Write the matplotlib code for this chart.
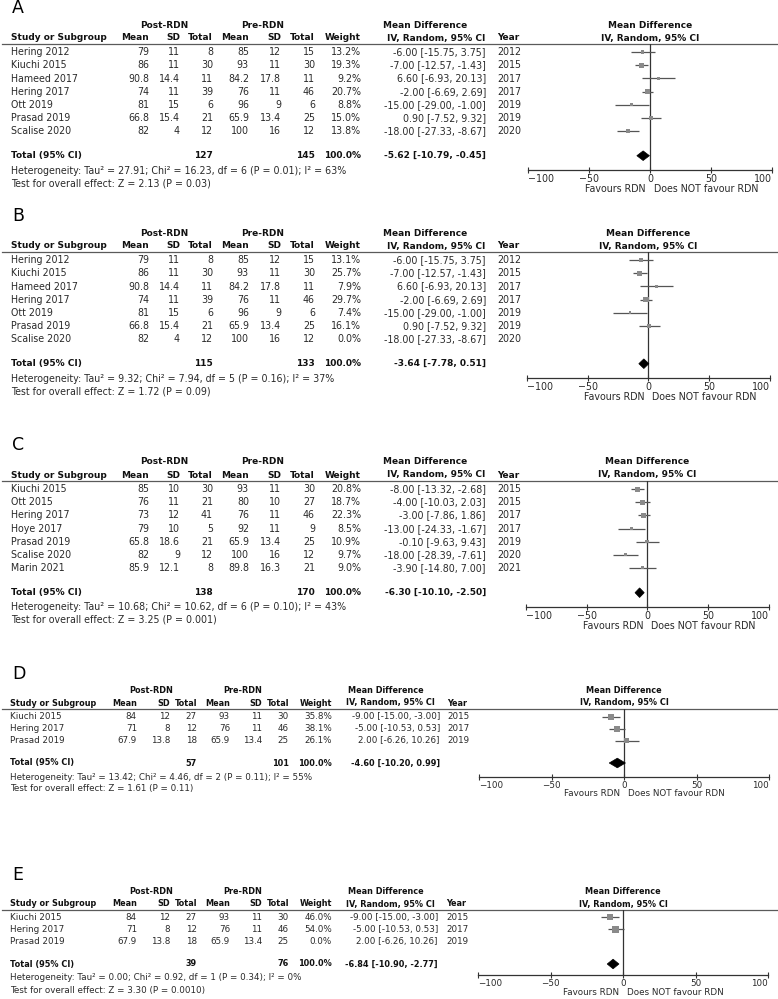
import matplotlib
matplotlib.use('Agg')
import matplotlib.pyplot as plt
from matplotlib.patches import Polygon
import numpy as np

plt.rcParams.update({
    'font.family': ['DejaVu Sans'],
    'axes.unicode_minus': False,
})

# ---- data ----
studies_ab = ['Hering 2012', 'Kiuchi 2015', 'Hameed 2017', 'Hering 2017', 'Ott 2019', 'Prasad 2019', 'Scalise 2020']
post_mean_ab = [79, 86, 90.8, 74, 81, 66.8, 82]
post_sd_ab = [11, 11, 14.4, 11, 15, 15.4, 4]
post_n_ab = [8, 30, 11, 39, 6, 21, 12]
pre_mean_ab = [85, 93, 84.2, 76, 96, 65.9, 100]
pre_sd_ab = [12, 11, 17.8, 11, 9, 13.4, 16]
pre_n_ab = [15, 30, 11, 46, 6, 25, 12]
md_ab = [-6.00, -7.00, 6.60, -2.00, -15.00, 0.90, -18.00]
lo_ab = [-15.75, -12.57, -6.93, -6.69, -29.00, -7.52, -27.33]
hi_ab = [3.75, -1.43, 20.13, 2.69, -1.00, 9.32, -8.67]
year_ab = [2012, 2015, 2017, 2017, 2019, 2019, 2020]
weight_a = [13.2, 19.3, 9.2, 20.7, 8.8, 15.0, 13.8]
weight_b = [13.1, 25.7, 7.9, 29.7, 7.4, 16.1, 0.0]

studies_c = ['Kiuchi 2015', 'Ott 2015', 'Hering 2017', 'Hoye 2017', 'Prasad 2019', 'Scalise 2020', 'Marin 2021']
post_mean_c = [85, 76, 73, 79, 65.8, 82, 85.9]
post_sd_c = [10, 11, 12, 10, 18.6, 9, 12.1]
post_n_c = [30, 21, 41, 5, 21, 12, 8]
pre_mean_c = [93, 80, 76, 92, 65.9, 100, 89.8]
pre_sd_c = [11, 10, 11, 11, 13.4, 16, 16.3]
pre_n_c = [30, 27, 46, 9, 25, 12, 21]
md_c = [-8.00, -4.00, -3.00, -13.00, -0.10, -18.00, -3.90]
lo_c = [-13.32, -10.03, -7.86, -24.33, -9.63, -28.39, -14.80]
hi_c = [-2.68, 2.03, 1.86, -1.67, 9.43, -7.61, 7.00]
year_c = [2015, 2015, 2017, 2017, 2019, 2020, 2021]
weight_c = [20.8, 18.7, 22.3, 8.5, 10.9, 9.7, 9.0]

studies_de = ['Kiuchi 2015', 'Hering 2017', 'Prasad 2019']
post_mean_de = [84, 71, 67.9]
post_sd_de = [12, 8, 13.8]
post_n_de = [27, 12, 18]
pre_mean_de = [93, 76, 65.9]
pre_sd_de = [11, 11, 13.4]
pre_n_de = [30, 46, 25]
md_de = [-9.00, -5.00, 2.00]
lo_de = [-15.00, -10.53, -6.26]
hi_de = [-3.00, 0.53, 10.26]
year_de = [2015, 2017, 2019]
weight_d = [35.8, 38.1, 26.1]
weight_e = [46.0, 54.0, 0.0]

# pooled results: post total, pre total, md, lo, hi
total_a = [127, 145, -5.62, -10.79, -0.45]
total_b = [115, 133, -3.64, -7.78, 0.51]
total_c = [138, 170, -6.30, -10.10, -2.50]
total_d = [57, 101, -4.60, -10.20, 0.99]
total_e = [39, 76, -6.84, -10.90, -2.77]

het_a = 'Heterogeneity: Tau² = 27.91; Chi² = 16.23, df = 6 (P = 0.01); I² = 63%'
het_b = 'Heterogeneity: Tau² = 9.32; Chi² = 7.94, df = 5 (P = 0.16); I² = 37%'
het_c = 'Heterogeneity: Tau² = 10.68; Chi² = 10.62, df = 6 (P = 0.10); I² = 43%'
het_d = 'Heterogeneity: Tau² = 13.42; Chi² = 4.46, df = 2 (P = 0.11); I² = 55%'
het_e = 'Heterogeneity: Tau² = 0.00; Chi² = 0.92, df = 1 (P = 0.34); I² = 0%'
test_a = 'Test for overall effect: Z = 2.13 (P = 0.03)'
test_b = 'Test for overall effect: Z = 1.72 (P = 0.09)'
test_c = 'Test for overall effect: Z = 3.25 (P = 0.001)'
test_d = 'Test for overall effect: Z = 1.61 (P = 0.11)'
test_e = 'Test for overall effect: Z = 3.30 (P = 0.0010)'

ticks = [-100, -50, 0, 50, 100]

# ---- layout (pixel positions) ----
W, H = 778, 999
TXT = '#2a2a2a'
BOLD = '#111111'
SQ = '#8a8a8a'
CI = '#555555'
AX = '#333333'


def layout(off, label, fx):
    return dict(label=label, letter=8 + off, h1=25 + off, h2=38 + off, line=43.5 + off,
                row0=52.3 + off, dy=13.1, total=155.7 + off, het=170.5 + off, test=183 + off,
                axis=170 + off, fx=fx, cols=[149, 180, 213, 249, 281, 315, 361], study_x=11,
                md_r=486, year_x=497, md_hdr=383, iv_hdr=387, post_c=164, pre_c=263,
                fs=6.85, fsb=6.45, sq=10, fav=19)


LAY_A = layout(0, 'A', (528, 772))
LAY_B = layout(208, 'B', (527, 769.5))
LAY_C = layout(437, 'C', (526, 768.5))
LAY_D = dict(label='D', letter=674, h1=690.5, h2=703, line=709, row0=716.7, dy=12, total=763,
             het=777, test=789, axis=777, fx=(479, 769), cols=[137, 170, 197, 230, 262, 289, 332],
             study_x=10, md_r=440, year_x=447, md_hdr=348, iv_hdr=346, post_c=151, pre_c=243,
             fs=6.35, fsb=5.9, sq=9.4, fav=16)
LAY_E = dict(LAY_D, label='E', letter=875, h1=891, h2=904, line=910, row0=917.3, total=964,
             het=977, test=990, axis=975.3, fx=(478, 768), md_r=438, year_x=446, fav=17.5)

fig = plt.figure(figsize=(W / 100, H / 100), dpi=100)
bg = fig.add_axes([0, 0, 1, 1])
bg.set_xlim(0, W)
bg.set_ylim(H, 0)
bg.axis('off')


def fmt(v):
    return f'{v:g}'


def ci_text(m, l, h):
    return f'{m:.2f} [{l:.2f}, {h:.2f}]'


def draw_panel(lay, study, pm, psd, pn, qm, qsd, qn, wt, md, lo, hi, yr, tot, het, test):
    fs = lay['fs']
    t = dict(fontsize=fs, color=TXT, va='center')
    b = dict(fontsize=lay['fsb'], color=BOLD, va='center', fontweight='bold')
    c = lay['cols']

    bg.text(12, lay['letter'], lay['label'], fontsize=12.5, color='black', va='center')

    # column headers
    bg.text(lay['post_c'], lay['h1'], 'Post-RDN', ha='center', **b)
    bg.text(lay['pre_c'], lay['h1'], 'Pre-RDN', ha='center', **b)
    bg.text(lay['md_hdr'], lay['h1'], 'Mean Difference', ha='left', **b)
    bg.text(lay['study_x'], lay['h2'], 'Study or Subgroup', ha='left', **b)
    for x, s in zip(c, ['Mean', 'SD', 'Total', 'Mean', 'SD', 'Total', 'Weight']):
        bg.text(x, lay['h2'], s, ha='right', **b)
    bg.text(lay['iv_hdr'], lay['h2'], 'IV, Random, 95% CI', ha='left', **b)
    bg.text(lay['year_x'], lay['h2'], 'Year', ha='left', **b)
    bg.plot([2, 777], [lay['line'], lay['line']], color='#5a5a5a', lw=0.9)

    # study rows
    for i in range(len(study)):
        y = lay['row0'] + i * lay['dy']
        bg.text(lay['study_x'], y, study[i], ha='left', **t)
        vals = [fmt(pm[i]), fmt(psd[i]), fmt(pn[i]), fmt(qm[i]), fmt(qsd[i]), fmt(qn[i]),
                f'{wt[i]:.1f}%']
        for x, s in zip(c, vals):
            bg.text(x, y, s, ha='right', **t)
        bg.text(lay['md_r'], y, ci_text(md[i], lo[i], hi[i]), ha='right', **t)
        bg.text(lay['year_x'], y, str(yr[i]), ha='left', **t)

    # total row
    bg.text(lay['study_x'], lay['total'], 'Total (95% CI)', ha='left', **b)
    bg.text(c[2], lay['total'], str(tot[0]), ha='right', **b)
    bg.text(c[5], lay['total'], str(tot[1]), ha='right', **b)
    bg.text(c[6], lay['total'], '100.0%', ha='right', **b)
    bg.text(lay['md_r'], lay['total'], ci_text(tot[2], tot[3], tot[4]), ha='right', **b)
    bg.text(lay['study_x'], lay['het'], het, ha='left', **t)
    bg.text(lay['study_x'], lay['test'], test, ha='left', **t)

    # forest plot axes
    x0, x1 = lay['fx']
    zero_px = (x0 + x1) / 2
    ax = fig.add_axes([x0 / W, 1 - lay['axis'] / H, (x1 - x0) / W, (lay['axis'] - lay['line']) / H])
    ax.set_facecolor('none')
    ax.set_xlim(-100, 100)
    ax.set_ylim(lay['axis'], lay['line'])
    for s in ['top', 'left', 'right']:
        ax.spines[s].set_visible(False)
    ax.spines['bottom'].set_color(AX)
    ax.spines['bottom'].set_linewidth(0.9)
    ax.set_yticks([])
    ax.set_xticks(ticks)
    ax.set_xticklabels([str(v).replace('-', '\u2212') for v in ticks])
    ax.tick_params(axis='x', direction='inout', length=5, width=0.8, color=AX,
                   labelsize=fs, labelcolor=TXT, pad=0.5)
    labs = ax.get_xticklabels()
    labs[0].set_ha('left')
    labs[-1].set_ha('right')
    ax.axvline(0, color=AX, lw=0.9)

    rows = lay['row0'] + np.arange(len(study)) * lay['dy']
    w = np.array(wt)
    keep = w > 0
    ax.hlines(rows[keep], np.array(lo)[keep], np.array(hi)[keep], color=CI, lw=0.9)
    side_pt = lay['sq'] * np.sqrt(w[keep] / 100) * 0.72
    ax.scatter(np.array(md)[keep], rows[keep], marker='s', s=side_pt ** 2, color=SQ,
               linewidths=0, zorder=3)

    yt = lay['total']
    hh = 4.8
    ax.add_patch(Polygon([(tot[3], yt), (tot[2], yt - hh), (tot[4], yt), (tot[2], yt + hh)],
                         closed=True, facecolor='black', edgecolor='black', lw=0.5, zorder=4))

    # forest headers and direction labels
    bg.text(zero_px, lay['h1'], 'Mean Difference', ha='center', **b)
    bg.text(zero_px, lay['h2'], 'IV, Random, 95% CI', ha='center', **b)
    bg.text(zero_px - 4, lay['axis'] + lay['fav'], 'Favours RDN', ha='right', **t)
    bg.text(zero_px + 4, lay['axis'] + lay['fav'], 'Does NOT favour RDN', ha='left', **t)


draw_panel(LAY_A, studies_ab, post_mean_ab, post_sd_ab, post_n_ab, pre_mean_ab, pre_sd_ab,
           pre_n_ab, weight_a, md_ab, lo_ab, hi_ab, year_ab, total_a, het_a, test_a)
draw_panel(LAY_B, studies_ab, post_mean_ab, post_sd_ab, post_n_ab, pre_mean_ab, pre_sd_ab,
           pre_n_ab, weight_b, md_ab, lo_ab, hi_ab, year_ab, total_b, het_b, test_b)
draw_panel(LAY_C, studies_c, post_mean_c, post_sd_c, post_n_c, pre_mean_c, pre_sd_c,
           pre_n_c, weight_c, md_c, lo_c, hi_c, year_c, total_c, het_c, test_c)
draw_panel(LAY_D, studies_de, post_mean_de, post_sd_de, post_n_de, pre_mean_de, pre_sd_de,
           pre_n_de, weight_d, md_de, lo_de, hi_de, year_de, total_d, het_d, test_d)
draw_panel(LAY_E, studies_de, post_mean_de, post_sd_de, post_n_de, pre_mean_de, pre_sd_de,
           pre_n_de, weight_e, md_de, lo_de, hi_de, year_de, total_e, het_e, test_e)

fig.savefig('out.png', dpi=100)
plt.close(fig)
